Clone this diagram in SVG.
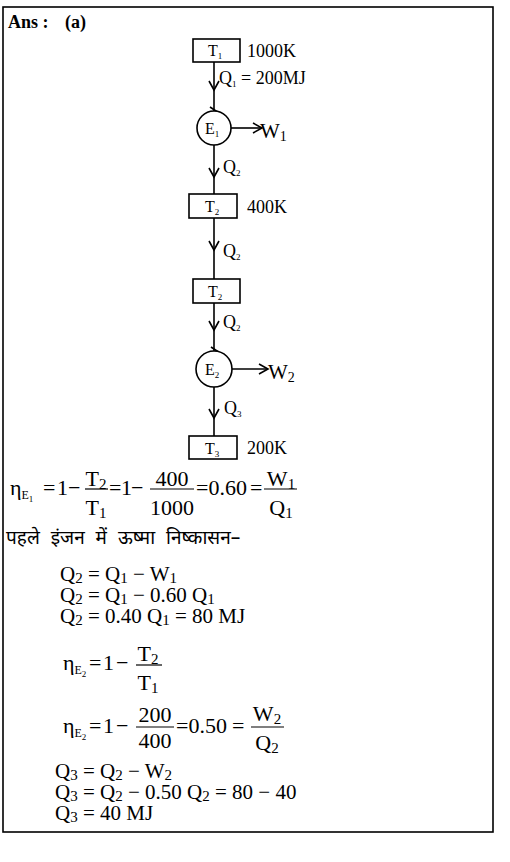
<svg xmlns="http://www.w3.org/2000/svg" width="510" height="862" viewBox="0 0 510 862">
<style>
.t{font-family:"Liberation Serif","Times New Roman",serif;fill:#000}
.lbl{font-size:18px}
.in{font-size:16px}
.sub{font-size:9px}
.eq{font-size:21px}
.es{font-size:15px}
.fr{font-size:22px}
.fs{font-size:15px}
.ess{font-size:12px}
.line{stroke:#000;stroke-width:1.6;fill:none}
.box{stroke:#000;stroke-width:1.6;fill:#fff}
.bar{stroke:#000;stroke-width:1.2}
.hi{font-family:"Noto Sans Devanagari","Lohit Devanagari","Mangal","Noto Sans",sans-serif;font-size:19px;word-spacing:6px;fill:#000}
</style>
<defs>
<path id="cd" d="M -5 -9 L 0 0 L 5 -9" stroke="#000" stroke-width="1.6" fill="none"/>
<path id="cr" d="M -9 -5 L 0 0 L -9 5" stroke="#000" stroke-width="1.6" fill="none"/>
</defs>
<rect x="3" y="7" width="490" height="825" fill="none" stroke="#000" stroke-width="1.6"/>
<text class="t" x="8" y="28" font-size="18" font-weight="bold">Ans :</text>
<text class="t" x="65" y="28" font-size="18" font-weight="bold">(a)</text>

<g id="connectors">
<line class="line" x1="214" y1="62" x2="214" y2="111"/>
<use href="#cd" x="214" y="90"/>
<line class="line" x1="214" y1="145" x2="214" y2="194"/>
<use href="#cd" x="214" y="177"/>
<line class="line" x1="214" y1="218" x2="214" y2="279"/>
<use href="#cd" x="214" y="250"/>
<line class="line" x1="214" y1="303" x2="214" y2="351"/>
<use href="#cd" x="214" y="330"/>
<line class="line" x1="214" y1="387" x2="214" y2="436"/>
<use href="#cd" x="214" y="418"/>
<line class="line" x1="231" y1="128" x2="262" y2="128"/>
<use href="#cr" x="262" y="128"/>
<line class="line" x1="232" y1="369" x2="268" y2="369"/>
<use href="#cr" x="268" y="369"/>
<path class="line" d="M 210 107 L 216 111 L 210 114" stroke-width="1.2"/>
<path class="line" d="M 211 347 L 217 351 L 211 354" stroke-width="1.2"/>
<text class="t lbl" x="219" y="84">Q<tspan class="sub" dy="3">1</tspan><tspan dy="-3"> = 200MJ</tspan></text>
<text class="t lbl" x="223" y="173">Q<tspan class="sub" dy="3">2</tspan></text>
<text class="t lbl" x="223" y="257">Q<tspan class="sub" dy="3">2</tspan></text>
<text class="t lbl" x="223" y="328">Q<tspan class="sub" dy="3">2</tspan></text>
<text class="t lbl" x="224" y="414">Q<tspan class="sub" dy="3">3</tspan></text>
<text class="t" font-size="21" x="260" y="138">W<tspan font-size="14" dy="3">1</tspan></text>
<text class="t" font-size="21" x="268" y="379">W<tspan font-size="14" dy="3">2</tspan></text>
</g>

<g id="T1">
<rect class="box" x="193" y="39" width="47" height="23"/>
<text class="t in" x="208" y="56">T<tspan class="sub" dy="3">1</tspan></text>
<text class="t lbl" x="247" y="57">1000K</text>
</g>
<g id="E1">
<circle class="box" cx="214" cy="128" r="17"/>
<text class="t in" x="205" y="134">E<tspan class="sub" dy="3">1</tspan></text>
</g>
<g id="T2">
<rect class="box" x="189" y="194" width="48" height="24"/>
<text class="t in" x="205" y="212">T<tspan class="sub" dy="3">2</tspan></text>
<text class="t lbl" x="247" y="213">400K</text>
</g>
<g id="T2b">
<rect class="box" x="193" y="279" width="47" height="24"/>
<text class="t in" x="208" y="297">T<tspan class="sub" dy="3">2</tspan></text>
</g>
<g id="E2">
<circle class="box" cx="214" cy="369" r="18"/>
<text class="t in" x="205" y="375">E<tspan class="sub" dy="3">2</tspan></text>
</g>
<g id="T3">
<rect class="box" x="189" y="436" width="48" height="23"/>
<text class="t in" x="205" y="454">T<tspan class="sub" dy="3">3</tspan></text>
<text class="t lbl" x="247" y="454">200K</text>
</g>

<g id="eq1">
<text class="t fr" x="10" y="495">η<tspan class="ess" dy="4">E</tspan><tspan font-size="9" dy="3">1</tspan></text>
<text class="t fr" x="43" y="495">=</text>
<text class="t fr" x="57" y="495">1</text>
<text class="t fr" x="68" y="495">−</text>
<line class="bar" x1="85" y1="489" x2="108" y2="489"/>
<text class="t fr" x="96" y="486" text-anchor="middle">T<tspan class="fs" dy="3">2</tspan></text>
<text class="t fr" x="96" y="515" text-anchor="middle">T<tspan class="fs" dy="3">1</tspan></text>
<text class="t fr" x="109" y="495">=</text>
<text class="t fr" x="121" y="495">1</text>
<text class="t fr" x="131" y="495">−</text>
<line class="bar" x1="150" y1="489" x2="194" y2="489"/>
<text class="t fr" x="172" y="486" text-anchor="middle">400</text>
<text class="t fr" x="172" y="515" text-anchor="middle">1000</text>
<text class="t fr" x="196" y="495">=0.60</text>
<text class="t fr" x="250" y="495">=</text>
<line class="bar" x1="264" y1="489" x2="297" y2="489"/>
<text class="t fr" x="281" y="486" text-anchor="middle">W<tspan class="fs" dy="3">1</tspan></text>
<text class="t fr" x="281" y="515" text-anchor="middle">Q<tspan class="fs" dy="3">1</tspan></text>
</g>

<text class="hi" x="6" y="544">पहले इंजन में ऊष्मा निष्कासन–</text>

<g id="eq2">
<text class="t eq" x="60" y="581">Q<tspan class="es" dy="2">2</tspan><tspan dy="-2"> = Q</tspan><tspan class="es" dy="2">1</tspan><tspan dy="-2"> − W</tspan><tspan class="es" dy="2">1</tspan></text>
<text class="t eq" x="60" y="602">Q<tspan class="es" dy="2">2</tspan><tspan dy="-2"> = Q</tspan><tspan class="es" dy="2">1</tspan><tspan dy="-2"> − 0.60 Q</tspan><tspan class="es" dy="2">1</tspan></text>
<text class="t eq" x="60" y="623">Q<tspan class="es" dy="2">2</tspan><tspan dy="-2"> = 0.40 Q</tspan><tspan class="es" dy="2">1</tspan><tspan dy="-2"> = 80 MJ</tspan></text>
</g>

<g id="eq3">
<text class="t fr" x="63" y="670">η<tspan class="ess" dy="4">E</tspan><tspan font-size="9" dy="3">2</tspan></text>
<text class="t fr" x="89" y="670">=</text>
<text class="t fr" x="103" y="670">1</text>
<text class="t fr" x="116" y="670">−</text>
<line class="bar" x1="136" y1="665" x2="162" y2="665"/>
<text class="t fr" x="148" y="661" text-anchor="middle">T<tspan class="fs" dy="3">2</tspan></text>
<text class="t fr" x="148" y="690" text-anchor="middle">T<tspan class="fs" dy="3">1</tspan></text>
</g>

<g id="eq4">
<text class="t fr" x="63" y="733">η<tspan class="ess" dy="4">E</tspan><tspan font-size="9" dy="3">2</tspan></text>
<text class="t fr" x="89" y="733">=</text>
<text class="t fr" x="103" y="733">1</text>
<text class="t fr" x="116" y="733">−</text>
<line class="bar" x1="136" y1="727" x2="174" y2="727"/>
<text class="t fr" x="155" y="722" text-anchor="middle">200</text>
<text class="t fr" x="155" y="748" text-anchor="middle">400</text>
<text class="t fr" x="176" y="733">=0.50</text>
<text class="t fr" x="232" y="733">=</text>
<line class="bar" x1="251" y1="727" x2="284" y2="727"/>
<text class="t fr" x="267" y="721" text-anchor="middle">W<tspan class="fs" dy="3">2</tspan></text>
<text class="t fr" x="267" y="750" text-anchor="middle">Q<tspan class="fs" dy="3">2</tspan></text>
</g>

<g id="eq5">
<text class="t eq" x="55" y="778">Q<tspan class="es" dy="2">3</tspan><tspan dy="-2"> = Q</tspan><tspan class="es" dy="2">2</tspan><tspan dy="-2"> − W</tspan><tspan class="es" dy="2">2</tspan></text>
<text class="t eq" x="55" y="799">Q<tspan class="es" dy="2">3</tspan><tspan dy="-2"> = Q</tspan><tspan class="es" dy="2">2</tspan><tspan dy="-2"> − 0.50 Q</tspan><tspan class="es" dy="2">2</tspan><tspan dy="-2"> = 80 − 40</tspan></text>
<text class="t eq" x="55" y="820">Q<tspan class="es" dy="2">3</tspan><tspan dy="-2"> = 40 MJ</tspan></text>
</g>
</svg>
